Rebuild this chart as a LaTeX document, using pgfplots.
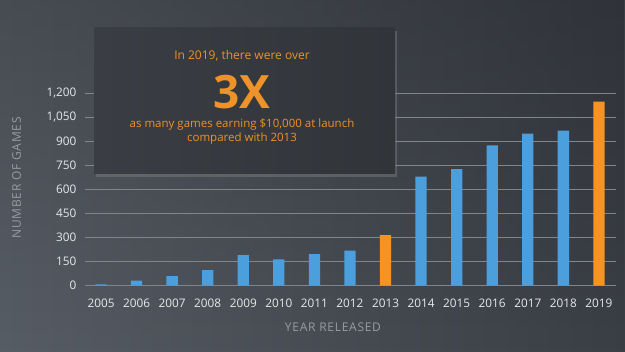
\documentclass[border=0pt]{standalone}
\usepackage{pgfplots}
\pgfplotsset{compat=1.18}
\usepackage{fontspec}
\setmainfont{Open Sans}
\usetikzlibrary{shadows,fadings}
\definecolor{bgL}{HTML}{575D65}
\definecolor{bgR}{HTML}{3A3E45}
\definecolor{gridc}{HTML}{80858B}
\definecolor{barblue}{HTML}{4A9FDC}
\definecolor{barorange}{HTML}{F7931E}
\definecolor{txtorange}{HTML}{EE922A}
\definecolor{ticktxt}{HTML}{E6E8EA}
\definecolor{labtxt}{HTML}{979CA3}
\definecolor{boxL}{HTML}{3A3D43}
\definecolor{boxR}{HTML}{313439}
\begin{document}
\begin{tikzpicture}[x=1pt,y=1pt]
\useasboundingbox (0,0) rectangle (625,352);
\shade[left color=bgL, right color=bgR] (0,0) rectangle (625,352);
\fill[black, opacity=0.18, path fading=south] (0,0) rectangle (625,352);
\begin{axis}[
  at={(85pt,66.3pt)}, anchor=south west, scale only axis,
  width=531pt, height=192.4pt,
  xmin=-0.45, xmax=14.48, ymin=0, ymax=1200,
  axis line style={draw=none}, major tick length=0pt,
  ytick={0,150,300,450,600,750,900,1050,1200},
  xtick={0,...,14},
  xticklabels={2005,2006,2007,2008,2009,2010,2011,2012,2013,2014,2015,2016,2017,2018,2019},
  ymajorgrids, grid style={gridc, line width=0.9pt},
  tick label style={ticktxt, font=\fontsize{11.8}{13}\selectfont},
  /pgf/number format/assume math mode=true,
  /pgf/number format/1000 sep={,},
  yticklabel style={anchor=east, xshift=-5pt},
  xticklabel style={anchor=base, yshift=-21.8pt},
  xlabel={YEAR RELEASED}, ylabel={NUMBER OF GAMES},
  label style={labtxt, font=\fontsize{12}{13}\selectfont\addfontfeatures{LetterSpace=6}},
  xlabel style={at={(axis description cs:0.467,-0.218)}, anchor=center},
  ylabel style={at={(axis description cs:-0.129,0.56)}, anchor=center},
  ybar, bar width=11.3pt,
]
\addplot[fill=barblue, draw=none, bar shift=0pt] coordinates {
(0,8) (1,32) (2,60) (3,97) (4,191) (5,164) (6,197) (7,219)
(9,681) (10,727) (11,875) (12,948) (13,967)};
\addplot[fill=barorange, draw=none, bar shift=0pt] coordinates {(8,315) (14,1148)};
\end{axis}
\shade[left color=boxL, right color=boxR, drop shadow={opacity=0.45, shadow xshift=2pt, shadow yshift=-3pt}] (94,178) rectangle (395,324);
\node[txtorange, font=\fontsize{12}{14}\selectfont] at (242,296) {In 2019, there were over};
\node[txtorange, font=\fontsize{46}{48}\selectfont\bfseries] at (242,260) {3X};
\node[txtorange, font=\fontsize{11.5}{13.3}\selectfont, align=center] at (242,220.4) {as many games earning \$10,000 at launch\\compared with 2013};
\end{tikzpicture}
\end{document}
